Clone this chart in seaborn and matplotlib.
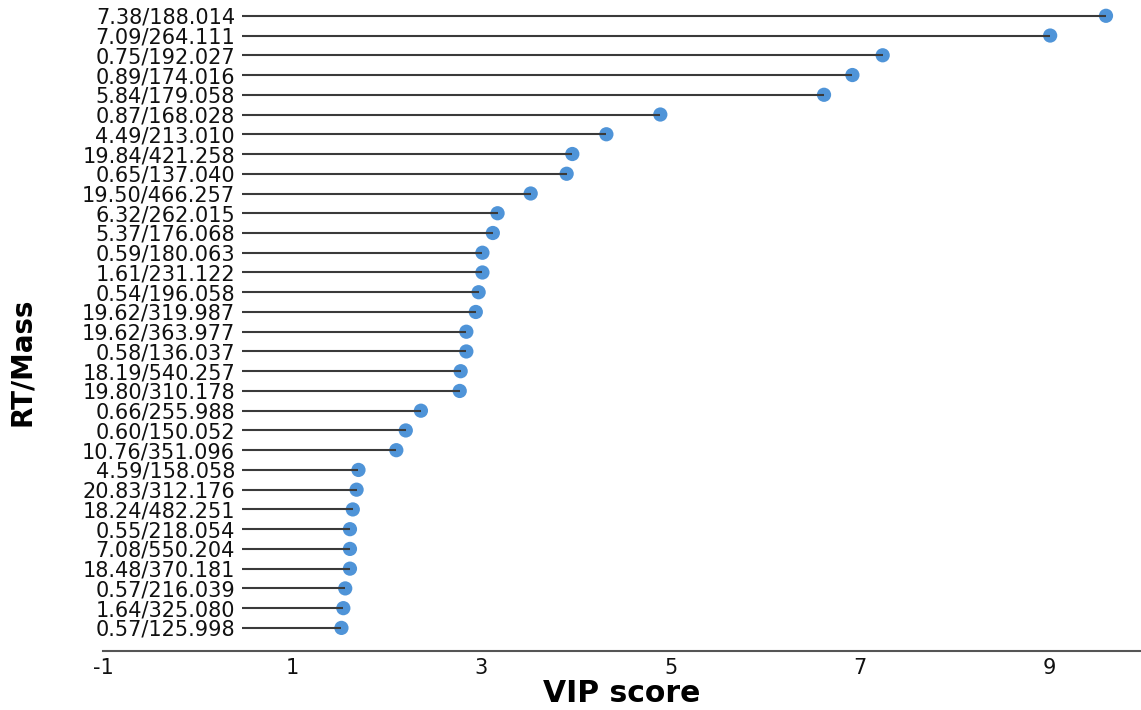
import matplotlib
matplotlib.use("Agg")
import matplotlib.pyplot as plt
import seaborn as sns
import pandas as pd
import numpy as np

# Features (retention time / mass) ranked by VIP score
features = [
    "7.38/188.014", "7.09/264.111", "0.75/192.027", "0.89/174.016",
    "5.84/179.058", "0.87/168.028", "4.49/213.010", "19.84/421.258",
    "0.65/137.040", "19.50/466.257", "6.32/262.015", "5.37/176.068",
    "0.59/180.063", "1.61/231.122", "0.54/196.058", "19.62/319.987",
    "19.62/363.977", "0.58/136.037", "18.19/540.257", "19.80/310.178",
    "0.66/255.988", "0.60/150.052", "10.76/351.096", "4.59/158.058",
    "20.83/312.176", "18.24/482.251", "0.55/218.054", "7.08/550.204",
    "18.48/370.181", "0.57/216.039", "1.64/325.080", "0.57/125.998",
]
vip_scores = [
    9.60, 9.01, 7.24, 6.92, 6.62, 4.89, 4.32, 3.96,
    3.90, 3.52, 3.17, 3.12, 3.01, 3.01, 2.97, 2.94,
    2.84, 2.84, 2.78, 2.77, 2.36, 2.20, 2.10, 1.70,
    1.68, 1.64, 1.61, 1.61, 1.61, 1.56, 1.54, 1.52,
]
x_ticks = [-1, 1, 3, 5, 7, 9]

df = pd.DataFrame({"feature": features, "vip": vip_scores})
df["pos"] = np.arange(len(df))[::-1]

sns.set_theme(style="white")
plt.rcParams["font.family"] = ["DejaVu Sans"]

fig = plt.figure(figsize=(11.41, 7.10), dpi=100)
ax = fig.add_axes([103 / 1141, 59 / 710, 1 - 103 / 1141, 1 - 59 / 710])

stem_start = 0.47
sns.scatterplot(data=df, x="vip", y="pos", ax=ax, s=105, color="#4f94d8",
                edgecolor="none", zorder=2, legend=False)
ax.hlines(df["pos"], stem_start, df["vip"], color="#3a3a3a", lw=1.5, zorder=3)

ax.set_xlim(-1, 9.97)
ax.set_ylim(-1.17, 31.8)
ax.set_xticks(x_ticks)
ax.set_xticklabels([str(t) for t in x_ticks])
ax.set_yticks(df["pos"])
ax.set_yticklabels(df["feature"])

ax.tick_params(axis="y", length=0, pad=-95, labelsize=15, colors="#111111")
ax.tick_params(axis="x", length=0, pad=5, labelsize=15, colors="#111111")
for lab in ax.get_yticklabels():
    lab.set_horizontalalignment("right")

sns.despine(ax=ax, left=True, top=True, right=True)
ax.spines["bottom"].set_color("#555555")
ax.spines["bottom"].set_linewidth(1.5)

ax.set_xlabel("VIP score", fontsize=21.5, fontweight="bold", color="black")
ax.xaxis.set_label_coords(0.5, -0.043)
ax.set_ylabel("RT/Mass", fontsize=20, fontweight="bold", color="black")
ax.yaxis.set_label_coords(-67 / 1038, 0.444)

fig.savefig("out.png", dpi=100)
